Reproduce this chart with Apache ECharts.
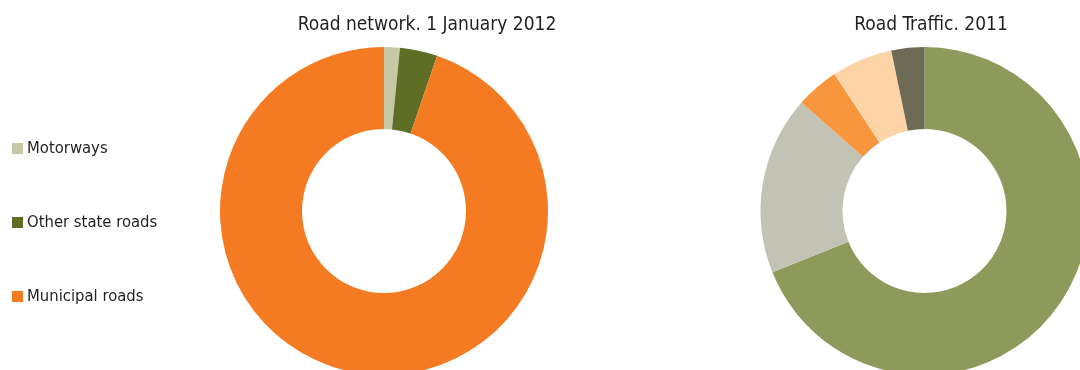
<!DOCTYPE html>
<html>
<head>
<meta charset="utf-8">
<script src="https://cdn.jsdelivr.net/npm/echarts@6/dist/echarts.min.js"></script>
<style>html,body{margin:0;padding:0;background:#fff;}#c{width:1080px;height:370px;}</style>
</head>
<body>
<div id="c"></div>
<script>
const networkNames = ['Motorways', 'Other state roads', 'Municipal roads'];
const networkValues = [1.55, 3.7, 94.75];
const networkColors = ['#C7C9A6', '#5F6E25', '#F47B21'];

const trafficNames = ['Passenger cars', 'Vans', 'Lorries', 'Articulated lorries', 'Other vehicles'];
const trafficValues = [68.9, 17.6, 4.25, 6.0, 3.25];
const trafficColors = ['#8E995C', '#C2C3B4', '#F7963D', '#FDD4A8', '#6D6A55'];

const titles = ['Road network. 1 January 2012', 'Road Traffic. 2011'];

const FONT = '"Liberation Sans Narrow", "DejaVu Sans Condensed", "Liberation Sans", sans-serif';

const chart = echarts.init(document.getElementById('c'));
function mk(names, values, colors) {
  return names.map((n, i) => ({ name: n, value: values[i], itemStyle: { color: colors[i] } }));
}
chart.setOption({
  animation: false,
  backgroundColor: '#fff',
  title: [
    { text: titles[0], left: 422, top: 11, textAlign: 'center',
      textStyle: { fontFamily: FONT, fontSize: 19, fontWeight: 'normal', color: '#231F20' } },
    { text: titles[1], left: 926, top: 11, textAlign: 'center',
      textStyle: { fontFamily: FONT, fontSize: 19, fontWeight: 'normal', color: '#231F20' } }
  ],
  legend: {
    data: networkNames,
    orient: 'vertical',
    left: 7,
    top: 135,
    itemWidth: 11,
    itemHeight: 11,
    itemGap: 57,
    icon: 'rect',
    selectedMode: false,
    textStyle: { fontFamily: FONT, fontSize: 16.5, color: '#231F20', padding: [0, 0, 0, -1] }
  },
  series: [
    {
      type: 'pie', radius: [82, 164], center: [384, 211], startAngle: 90, clockwise: true,
      label: { show: false }, labelLine: { show: false }, silent: true,
      itemStyle: { borderWidth: 0 },
      data: mk(networkNames, networkValues, networkColors)
    },
    {
      type: 'pie', radius: [82, 164], center: [924.5, 211], startAngle: 90, clockwise: true,
      label: { show: false }, labelLine: { show: false }, silent: true,
      itemStyle: { borderWidth: 0 },
      data: mk(trafficNames, trafficValues, trafficColors)
    }
  ]
});
</script>
</body>
</html>
